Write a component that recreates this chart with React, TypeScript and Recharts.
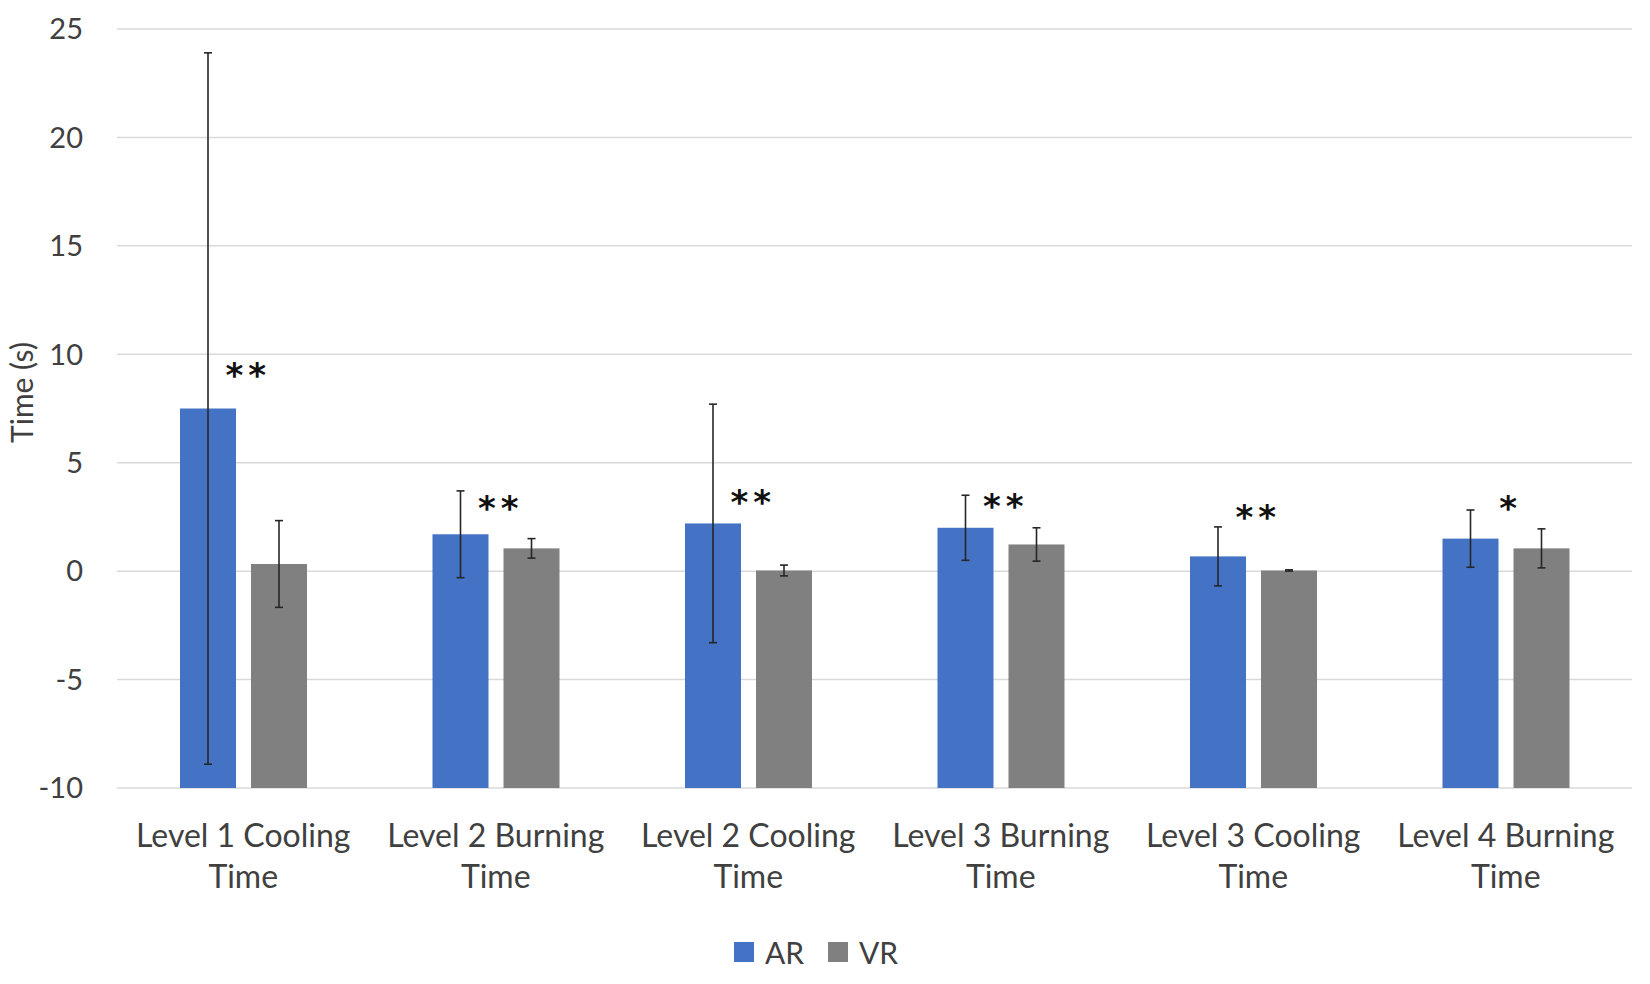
import {
  ComposedChart,
  Bar,
  Line,
  XAxis,
  YAxis,
  CartesianGrid,
  ErrorBar,
  Legend,
  LabelList,
} from 'recharts';

const CATEGORIES = [
  'Level 1 Cooling Time',
  'Level 2 Burning Time',
  'Level 2 Cooling Time',
  'Level 3 Burning Time',
  'Level 3 Cooling Time',
  'Level 4 Burning Time',
];
const AR_MEAN = [7.5, 1.7, 2.2, 2.0, 0.68, 1.5];
const AR_ERR = [16.4, 2.0, 5.5, 1.5, 1.36, 1.32];
const VR_MEAN = [0.33, 1.05, 0.03, 1.23, 0.03, 1.05];
const VR_ERR = [2.0, 0.45, 0.25, 0.77, 0.03, 0.9];
const SIG = ['**', '**', '**', '**', '**', '*'];
const SIG_Y = [9.3, 3.2, 3.46, 3.3, 2.76, 3.17];
const Y_TICKS = [-10, -5, 0, 5, 10, 15, 20, 25];

const FONT = 'Lato, "Open Sans", sans-serif';
const TEXT = '#404040';
const BLUE = '#4472C4';
const GRAY = '#808080';

const data = CATEGORIES.map((name, i) => ({
  name,
  ar: AR_MEAN[i],
  arErr: AR_ERR[i],
  vr: VR_MEAN[i],
  vrErr: VR_ERR[i],
  sig: SIG[i],
  sigY: SIG_Y[i],
}));

// bars in the original are drawn up from the axis floor (-10), not from 0
function FloorBar(props: any) {
  const { x, y, width, height, fill, background } = props;
  const bottom = background ? background.y + background.height : y + height;
  return <rect x={x} y={y} width={width} height={Math.max(bottom - y, 0)} fill={fill} />;
}

function CategoryTick({ x, y, payload }: any) {
  const words = String(payload.value).split(' ');
  const last = words.pop();
  return (
    <text x={x} y={y} textAnchor="middle" fill={TEXT} fontSize={32} fontFamily={FONT}>
      <tspan x={x} dy={51}>{words.join(' ')}</tspan>
      <tspan x={x} dy={41}>{last}</tspan>
    </text>
  );
}

function StarLabel({ x, y, value }: any) {
  return (
    <text
      x={x + 5}
      y={y + 18}
      textAnchor="middle"
      fill="#111"
      fontSize={34}
      fontWeight="bold"
      fontFamily='"DejaVu Sans", sans-serif'
      letterSpacing={5}
    >
      {value}
    </text>
  );
}

function YLabel({ viewBox }: any) {
  const cy = viewBox.y + viewBox.height / 2 - 16;
  return (
    <text
      x={33}
      y={cy}
      transform={`rotate(-90 33 ${cy})`}
      textAnchor="middle"
      fill={TEXT}
      fontSize={30}
      fontFamily={FONT}
    >
      Time (s)
    </text>
  );
}

function LegendContent({ payload }: any) {
  const items = (payload || []).filter((p: any) => p.dataKey === 'ar' || p.dataKey === 'vr');
  return (
    <div
      style={{
        display: 'flex',
        justifyContent: 'center',
        alignItems: 'center',
        height: 40,
        fontFamily: FONT,
        fontSize: 30,
        color: TEXT,
      }}
    >
      {items.map((p: any) => (
        <div key={p.dataKey} style={{ display: 'flex', alignItems: 'center', margin: '0 12px' }}>
          <span style={{ width: 20, height: 20, background: p.color, marginRight: 11 }} />
          <span>{p.value}</span>
        </div>
      ))}
    </div>
  );
}

export default function App() {
  return (
    <div style={{ position: 'absolute', left: 0, top: 0, background: '#fff' }}>
      <ComposedChart
        width={1650}
        height={984}
        data={data}
        margin={{ top: 29, right: 18, bottom: 12, left: 0 }}
        barGap={15}
      >
        <CartesianGrid vertical={false} stroke="#D9D9D9" strokeWidth={1.5} />
        <XAxis
          dataKey="name"
          axisLine={false}
          tickLine={false}
          height={144}
          interval={0}
          tick={<CategoryTick />}
        />
        <YAxis
          type="number"
          domain={[-10, 25]}
          ticks={Y_TICKS}
          width={117}
          axisLine={false}
          tickLine={false}
          tickMargin={28}
          tick={{ fill: TEXT, fontSize: 29, fontFamily: FONT }}
          label={<YLabel />}
        />
        <Legend verticalAlign="bottom" content={<LegendContent />} />
        <Bar dataKey="ar" name="AR" fill={BLUE} barSize={56} shape={<FloorBar />} isAnimationActive={false}>
          <ErrorBar dataKey="arErr" width={4} stroke="#262626" strokeWidth={1.6} isAnimationActive={false} />
        </Bar>
        <Bar dataKey="vr" name="VR" fill={GRAY} barSize={56} shape={<FloorBar />} isAnimationActive={false}>
          <ErrorBar dataKey="vrErr" width={4} stroke="#262626" strokeWidth={1.6} isAnimationActive={false} />
        </Bar>
        <Line
          dataKey="sigY"
          stroke="none"
          dot={false}
          activeDot={false}
          legendType="none"
          isAnimationActive={false}
        >
          <LabelList dataKey="sig" content={<StarLabel />} />
        </Line>
      </ComposedChart>
    </div>
  );
}
